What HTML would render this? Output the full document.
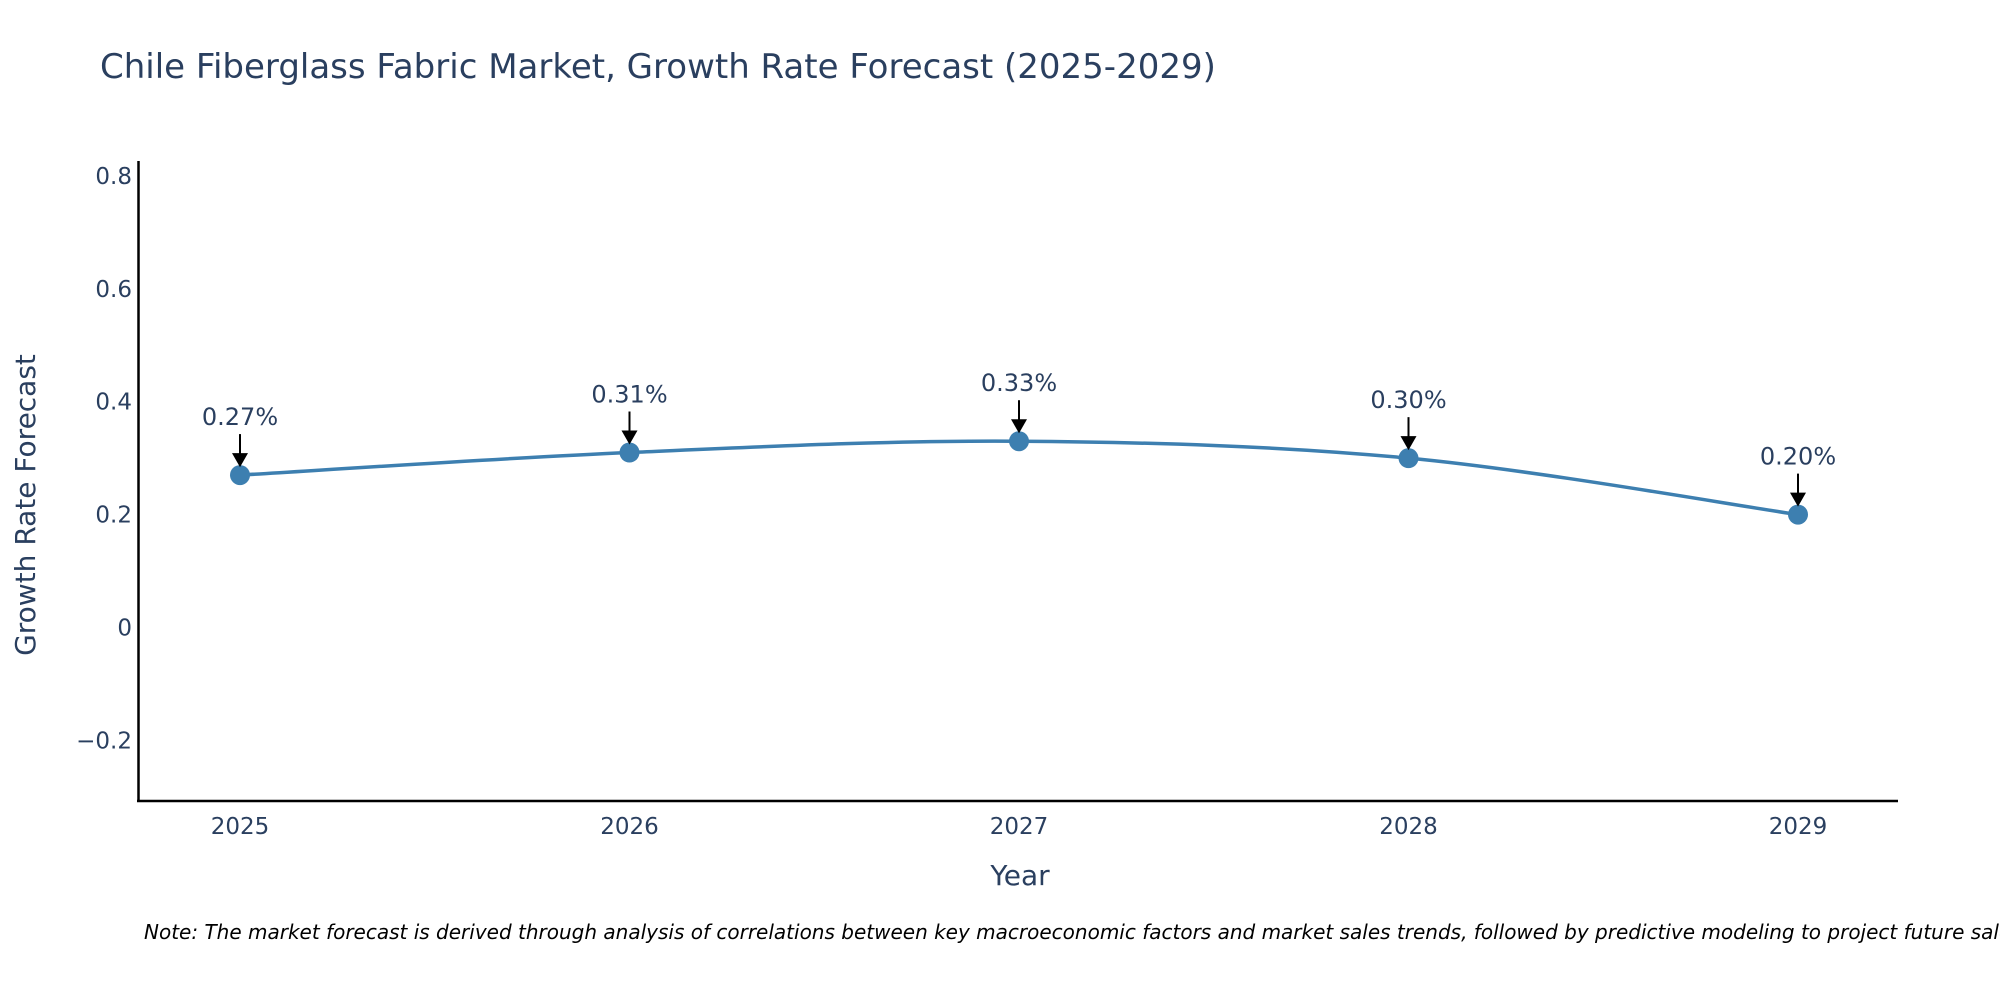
<!DOCTYPE html>
<html><head><meta charset="utf-8"><style>
body{margin:0;background:#fff;font-family:"DejaVu Sans",sans-serif;}
svg text{font-family:"DejaVu Sans",sans-serif;}
</style></head><body>
<svg width="2000" height="1000">
<text x="100" y="78" font-size="34" fill="#2a3f5f">Chile Fiberglass Fabric Market, Growth Rate Forecast (2025-2029)</text>
<g id="yticks"></g>
<g id="xticks"></g>
<line x1="138.5" y1="161" x2="138.5" y2="802" stroke="#000" stroke-width="2.5"/>
<line x1="137" y1="801" x2="1898" y2="801" stroke="#000" stroke-width="2.5"/>
<text transform="translate(35,505) rotate(-90)" text-anchor="middle" font-size="28" fill="#2a3f5f">Growth Rate Forecast</text>
<text x="1020" y="885" text-anchor="middle" font-size="28" fill="#2a3f5f">Year</text>
<g id="series"></g>
<g id="annots"></g>
<text x="144" y="939" font-size="20" font-style="italic" fill="#000">Note: The market forecast is derived through analysis of correlations between key macroeconomic factors and market sales trends, followed by predictive modeling to project future sales</text>
</svg>
<script>
const years=["2025","2026","2027","2028","2029"];
const growth=[0.27,0.31,0.33,0.30,0.20];
const labels=["0.27%","0.31%","0.33%","0.30%","0.20%"];
const yTicks=[-0.2,0,0.2,0.4,0.6,0.8];
const yTickLabels=["\u22120.2","0","0.2","0.4","0.6","0.8"];
const NS="http://www.w3.org/2000/svg";
function X(i){return 240+i*389.5;}
function Y(v){return 627.5-v*564.5;}
function mk(tag,attrs,parent){const e=document.createElementNS(NS,tag);for(const k in attrs)e.setAttribute(k,attrs[k]);parent.appendChild(e);return e;}
const yt=document.getElementById('yticks');
yTicks.forEach((v,i)=>{const t=mk('text',{x:132,y:Y(v)+8,'text-anchor':'end','font-size':23,fill:'#2a3f5f'},yt);


t.textContent=yTickLabels[i];});
const xt=document.getElementById('xticks');
years.forEach((y,i)=>{const t=mk('text',{x:X(i),y:834,'text-anchor':'middle','font-size':23,fill:'#2a3f5f'},xt);


t.textContent=y;});
const s=document.getElementById('series');
const pts=growth.map((v,i)=>[X(i),Y(v)]);
let d="M"+pts[0][0]+","+pts[0][1];
for(let i=0;i<pts.length-1;i++){const p0=pts[Math.max(0,i-1)],p1=pts[i],p2=pts[i+1],p3=pts[Math.min(pts.length-1,i+2)];
const c1=[p1[0]+(p2[0]-p0[0])/6,p1[1]+(p2[1]-p0[1])/6],c2=[p2[0]-(p3[0]-p1[0])/6,p2[1]-(p3[1]-p1[1])/6];
d+=` C${c1[0]},${c1[1]} ${c2[0]},${c2[1]} ${p2[0]},${p2[1]}`;}
const ln=mk('path',{d:d,fill:'none',stroke:'#3d7fb0','stroke-width':3.5},s);


pts.forEach(p=>{const c=mk('circle',{cx:p[0],cy:p[1],r:10,fill:'#3d7fb0'},s);

});
const a=document.getElementById('annots');
pts.forEach((p,i)=>{const g=mk('g',{},a);


const t=mk('text',{x:p[0],y:p[1]-50,'text-anchor':'middle','font-size':24,fill:'#2a3f5f'},g);t.textContent=labels[i];
mk('line',{x1:p[0],y1:p[1]-41,x2:p[0],y2:p[1]-20,stroke:'#000','stroke-width':2},g);
mk('path',{d:`M${p[0]-8},${p[1]-22} L${p[0]+8},${p[1]-22} L${p[0]},${p[1]-8} Z`,fill:'#000'},g);});
</script>
</body></html>
